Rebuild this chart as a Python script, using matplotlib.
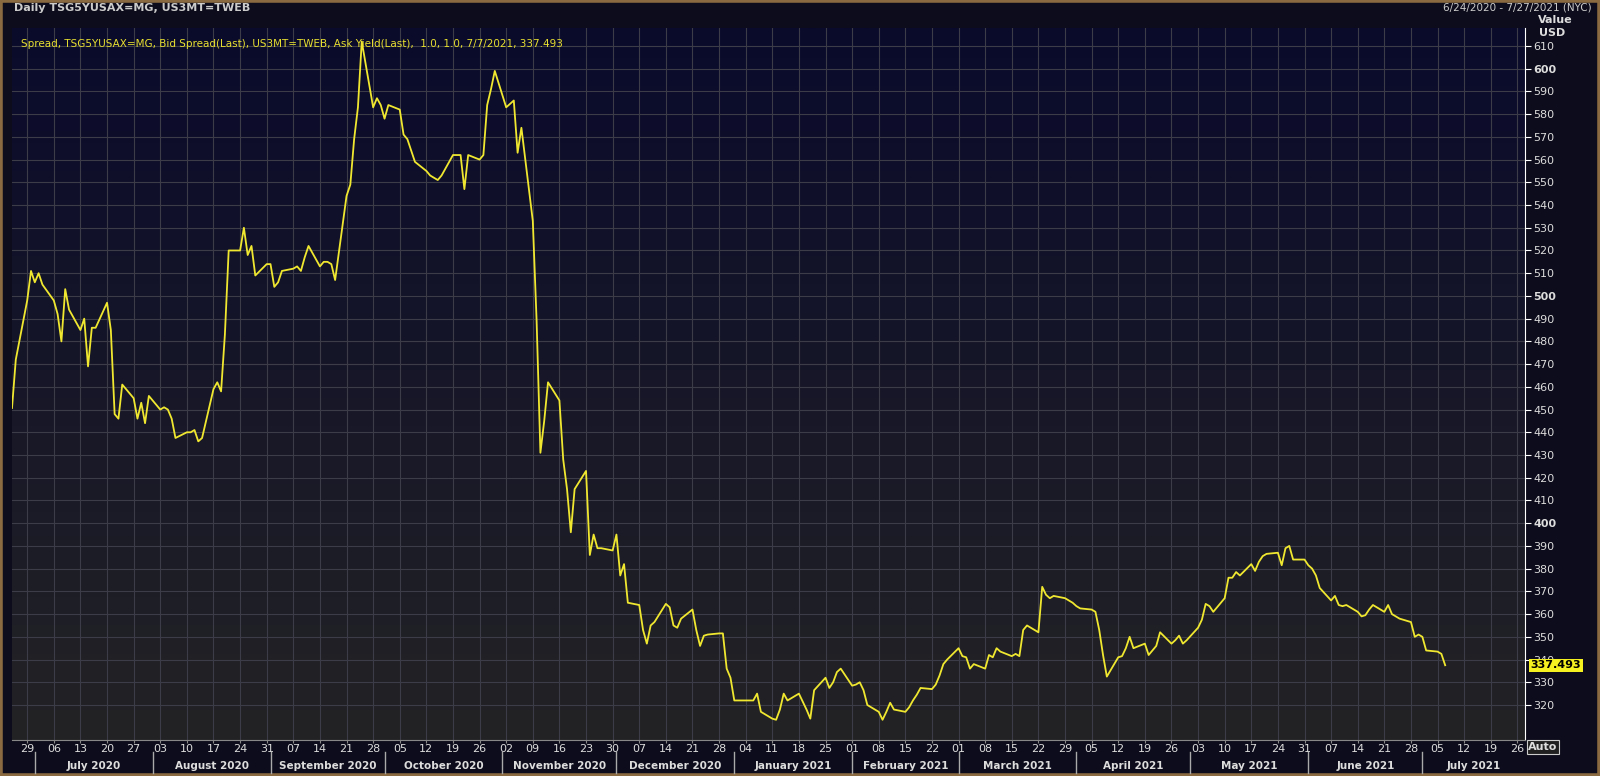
import numpy as np
import pandas as pd
import matplotlib
matplotlib.use("Agg")
import matplotlib.pyplot as plt
import matplotlib.dates as mdates
import matplotlib.transforms as mtrans
from matplotlib.colors import LinearSegmentedColormap

values = [450.7,472,498,511,506,510,505,498,492,480,503,494,485,490,469,486,486,497,485,448,
446,461,455,446,453,444,456,450,451,450,446,437.5,440,440,441,436,437.5,459,462,458,
483,520,520,530,518,522,509,514,514,504,506,511,512,513,511,517,522,513,515,515,
514,507,544,549,569,583,612,583,587,584,578,584,582,571,569,564,559,555,553,552,
551,553,562,562,562,547,562,560,562,584,591,599,583,584.5,586,563,574,533,489,431,
445,462,454,428,415,396,415,423,386,395,389,389,388,395,377,382,365,364,353,347,
355,356.5,364.5,363,355,354,358,362,353,346,350.5,351,351.5,351.5,336,332,322,322,322,322,
325,317,314,313.5,318,325,322,325,321.5,318,314,326.5,332,327.5,330,334.5,336,328.5,329,330,
326.5,320,317,313.5,317,321,318,317,319,322,324.5,327.5,327,329,333,338,340,345,341.5,341,
336,338,336,342,341,345,343.5,341.5,342.5,341.5,353,355,352,372,368.5,367,368,367,366,365,
363.5,362.5,362,361,353,342,332.5,341,341.5,345,350,345,347,342,344,346,352,347,348.5,350.5,
347,348.5,354,357.5,364.5,363.5,361,367,376,376,378.5,377,382,379,383,385.5,386.5,387,381.5,389,
390,384,384,381.5,380,377,371.5,366,368,364,363.5,364,361,359,359.5,362,364,361,364,360,
359,358,356.5,350,351,350,344,343.5,342.5,337.493]
dates = pd.bdate_range(end="2021-07-07", periods=len(values))
last_value = 337.493

header = "Daily TSG5YUSAX=MG, US3MT=TWEB"
legend_txt = "Spread, TSG5YUSAX=MG, Bid Spread(Last), US3MT=TWEB, Ask Yield(Last),  1.0, 1.0, 7/7/2021, 337.493"
range_txt = "6/24/2020 - 7/27/2021 (NYC)"

fig = plt.figure(figsize=(16, 7.76), dpi=100, facecolor="#0c0c1c")
ax = fig.add_axes([12/1600, 1-740/776, (1525-12)/1600, (740-28)/776])
x0, x1 = mdates.date2num(pd.Timestamp("2020-06-25")), mdates.date2num(pd.Timestamp("2021-07-28"))
y0, y1 = 304.6, 617.9
grad = np.linspace(0, 1, 256).reshape(-1, 1)
cm = LinearSegmentedColormap.from_list("bg", ["#0a0a2c", "#232325"])
ax.imshow(grad, extent=[x0, x1, y0, y1], aspect="auto", cmap=cm, zorder=0, origin="upper")
ax.set_xlim(x0, x1); ax.set_ylim(y0, y1)

ax.plot(dates, values, color="#f0e830", lw=1.3, zorder=3)

ax.yaxis.tick_right()
yt = np.arange(320, 611, 10)
ax.set_yticks(yt)
ax.set_yticklabels([str(v) for v in yt])
for lab, v in zip(ax.get_yticklabels(), yt):
    if v % 100 == 0:
        lab.set_fontweight("bold")
ax.tick_params(axis="y", colors="white", labelcolor="#dddddd", labelsize=8, length=4, direction="out", pad=2)
ax.xaxis.set_major_locator(mdates.WeekdayLocator(byweekday=mdates.MO))
ax.xaxis.set_major_formatter(mdates.DateFormatter("%d"))
ax.tick_params(axis="x", colors="#888888", labelcolor="#dddddd", labelsize=8, length=2, pad=1)
ax.grid(True, color="#3c3c48", lw=0.8, zorder=1)
for s in ax.spines.values():
    s.set_visible(False)
ax.spines["right"].set_visible(True); ax.spines["right"].set_color("white")
ax.spines["bottom"].set_visible(True); ax.spines["bottom"].set_color("#888888")

trans = mtrans.blended_transform_factory(ax.transData, fig.transFigure)
months = pd.date_range("2020-07-01", "2021-08-01", freq="MS")
for i in range(len(months) - 1):
    a, b = months[i], months[i + 1]
    ma = mdates.date2num(a)
    fig.add_artist(plt.Line2D([ma, ma], [1-773/776, 1-752/776], transform=trans, color="#aaaaaa", lw=1))
    mid = ma + min((mdates.date2num(b) - ma), x1 - ma) / 2
    fig.text(mid, 1-766/776, a.strftime("%B %Y"), transform=trans, ha="center", va="center",
             color="#dddddd", fontsize=7.5, fontweight="bold")

fig.text(14/1600, 1-8/776, header, color="#cccccc", fontsize=8, va="center", fontweight="bold")
ax.text(0.006, 0.985, legend_txt, transform=ax.transAxes, color="#e8e030", fontsize=7.5, va="top")
fig.text(1592/1600, 1-8/776, range_txt, color="#cccccc", fontsize=7.5, va="center", ha="right")
fig.text(1555/1600, 1-20/776, "Value", color="#dddddd", fontsize=8, fontweight="bold", ha="center", va="center")
fig.text(1552/1600, 1-33/776, "USD", color="#dddddd", fontsize=8, fontweight="bold", ha="center", va="center")
ax.annotate(f"{last_value:.3f}", xy=(1.0, last_value), xycoords=("axes fraction", "data"),
            xytext=(4, 0), textcoords="offset points", va="center", ha="left", color="black",
            fontsize=8, fontweight="bold", bbox=dict(boxstyle="square,pad=0.15", fc="#f5f020", ec="none"))
fig.text(1543/1600, 1-747/776, "Auto", color="#dddddd", fontsize=8, fontweight="bold", ha="center", va="center",
         bbox=dict(boxstyle="square,pad=0.15", fc="#202020", ec="#cccccc", lw=0.8))
fig.add_artist(plt.Rectangle((0, 0), 1, 1, transform=fig.transFigure, fill=False, ec="#8a6a40", lw=4))
fig.savefig("out.png", dpi=100, facecolor=fig.get_facecolor())
